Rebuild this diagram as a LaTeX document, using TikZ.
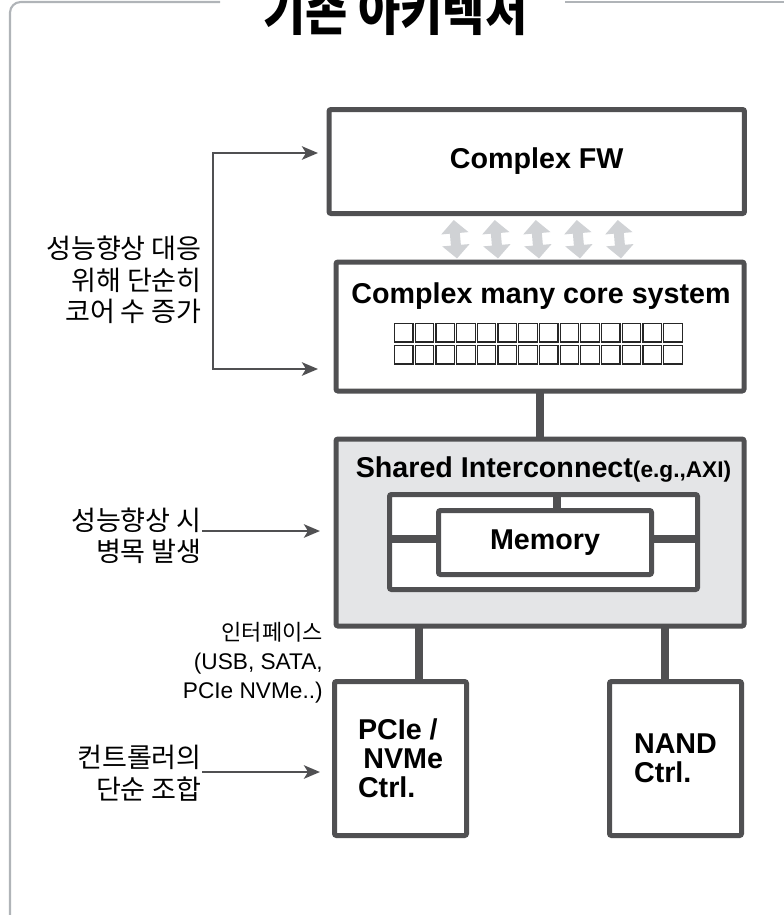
\documentclass[tikz,border=0pt]{standalone}
\usepackage{fontspec}
\setmainfont{Liberation Sans}
\newfontfamily\kr{Noto Sans CJK KR}
\newfontfamily\krblack{Noto Sans CJK KR Black}
\usetikzlibrary{arrows.meta,calc}

\definecolor{edgegray}{RGB}{80,80,82}
\definecolor{busfill}{RGB}{228,229,231}
\definecolor{flowgray}{RGB}{208,210,213}
\definecolor{framegray}{RGB}{176,180,184}

\tikzset{
  flowtip/.tip={Stealth[length=12pt,width=10pt,inset=3pt]},
  unit/.style={draw=edgegray, line width=3.75pt, rounded corners=1.5pt, fill=white,
    inner sep=0pt, outer sep=0pt, align=center,
    font=\fontsize{21.5}{21.75}\selectfont\bfseries},
  link/.style={draw=edgegray, line width=6.5pt},
  pointer/.style={draw=edgegray, line width=2pt},
  note/.style={inner sep=0pt, align=right, font=\kr\fontsize{20.3}{23.6}\selectfont},
  dblflow/.style={draw=flowgray, line width=7.5pt,
    {Triangle[length=10pt,width=20pt]}-{Triangle[length=10pt,width=20pt]}},
  corecell/.style={draw=black!85, line width=0.9pt, fill=white}
}

\begin{document}
\begin{tikzpicture}[x=0.75pt,y=-0.75pt]
  \useasboundingbox (0,0) rectangle (784,915);

  % frame and title
  \draw[framegray, line width=1.6pt, rounded corners=8pt] (220,2) -- (10,2) -- (10,920);
  \draw[framegray, line width=1.6pt] (565,2) -- (790,2);
  \node[anchor=base, inner sep=0pt, font=\krblack\fontsize{40}{40}\selectfont] (title) at (395.5,30)
    {\scalebox{0.86}[1]{기존 아키텍처}};

  % blocks
  \node[unit, minimum width=311.6pt, minimum height=78pt] (fw) at (536.75,161.5) {Complex FW};
  \node[unit, minimum width=306pt, minimum height=96.75pt] (core) at (540,326.5) {};
  \node[unit, fill=busfill, minimum width=306pt, minimum height=140.25pt] (shared) at (540,532.5) {};
  \node[unit, minimum width=231pt, minimum height=71.25pt] (inner) at (543.5,542) {};
  \node[unit, align=left, minimum width=99pt, minimum height=115.5pt] (pcie) at (400.5,758.5) {PCIe /\\\hspace*{4pt}NVMe\\Ctrl.};
  \node[unit, align=left, minimum width=99pt, minimum height=115.5pt] (nand) at (675.5,758.5) {NAND\\Ctrl.};

  \node[font=\fontsize{21.5}{21.75}\selectfont\bfseries, anchor=base, inner sep=0pt] (coretitle) at (541,303) {Complex many core system};
  \foreach \i in {0,...,13} {
    \draw[corecell] (394.5+\i*20.7,323.5) rectangle ++(18.5,18.5);
    \draw[corecell] (394.5+\i*20.7,345.5) rectangle ++(18.5,18.5);
  }
  \node[font=\fontsize{21.5}{21.75}\selectfont\bfseries, anchor=base, inner sep=0pt] (bustitle) at (543.5,477)
    {Shared Interconnect{\fontsize{17}{17}\selectfont(e.g.,AXI)}};

  % links
  \foreach \dx in {-83,-42,-1,40,81}
    \draw[dblflow] ($(fw.south)+(\dx,6.5)$) -- ($(core.north)+(\dx,-3.5)$);
  \draw[link] (core.south) -- (shared.north);
  \coordinate (tap) at ($(inner.north)+(13,0)$);
  \draw[link, line width=6pt] (tap) -- ($(tap)+(0,16)$);
  \draw[link, line width=6pt] (inner.west |- 0,538.5) -- (inner.east |- 0,538.5);
  \coordinate (pcietap) at ($(pcie.north)+(18.5,0)$);
  \coordinate (nandtap) at ($(nand.north)+(-10.5,0)$);
  \draw[link] (pcietap) -- (pcietap |- shared.south);
  \draw[link] (nandtap) -- (nandtap |- shared.south);
  \node[unit, minimum width=159.75pt, minimum height=48pt] (mem) at (545,542.5) {Memory};

  % notes
  \node[note, anchor=east] (scale) at (202,280) {성능향상 대응\\위해 단순히\\코어 수 증가};
  \coordinate (fwin) at (318,153);
  \coordinate (corein) at (318,369);
  \coordinate (brk) at (213,0);
  \draw[pointer, flowtip-flowtip] (fwin) -- (fwin -| brk) -- (corein -| brk) -- (corein);

  \node[note, anchor=east] (neck) at (202,536) {성능향상 시\\병목 발생};
  \coordinate (neckin) at (320,531);
  \draw[pointer, -flowtip] (neck.east |- neckin) -- (neckin);

  \node[note, anchor=east, font=\fontsize{17}{21.75}\selectfont] (iface) at (323,663)
    {{\kr\fontsize{16.5}{21.75}\selectfont 인터페이스}\\(USB, SATA,\\PCIe NVMe..)};

  \node[note, anchor=east] (combo) at (202,773) {컨트롤러의\\단순 조합};
  \coordinate (comboin) at (320,772);
  \draw[pointer, -flowtip] (combo.east |- comboin) -- (comboin);
\end{tikzpicture}
\end{document}
